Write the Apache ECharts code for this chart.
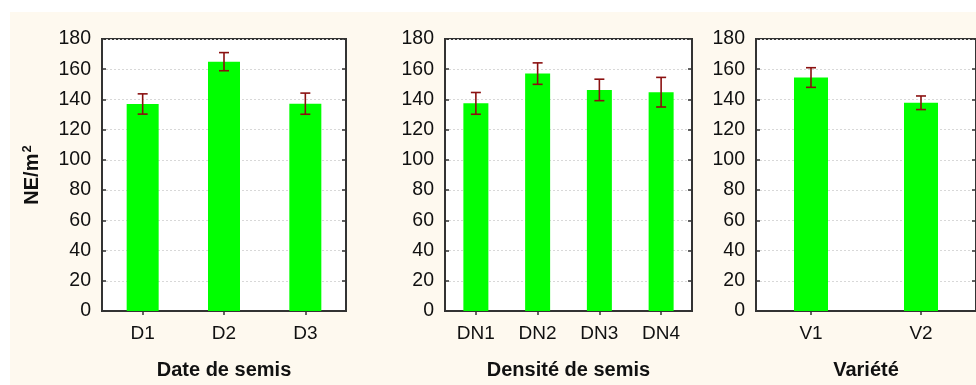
<!DOCTYPE html>
<html>
<head>
<meta charset="utf-8">
<script src="https://cdn.jsdelivr.net/npm/echarts@6/dist/echarts.min.js"></script>
<style>html,body{margin:0;padding:0;background:#fff}#c{width:976px;height:385px}</style>
</head>
<body>
<div id="c"></div>
<script>
// ---- data ----
const dateCats = ['D1', 'D2', 'D3'];
const dateMeans = [137, 165, 137.2];
const dateErr = [6.7, 6.0, 7.0];

const densCats = ['DN1', 'DN2', 'DN3', 'DN4'];
const densMeans = [137.4, 157.1, 146.3, 144.8];
const densErr = [7.2, 7.1, 7.1, 9.8];

const varCats = ['V1', 'V2'];
const varMeans = [154.5, 137.8];
const varErr = [6.5, 4.5];

const xTitles = ['Date de semis', 'Densité de semis', 'Variété'];
const yTitle = 'NE/m';
const yTicks = [0, 20, 40, 60, 80, 100, 120, 140, 160, 180];

// ---- chart ----
const panels = [
  {cats: dateCats, means: dateMeans, err: dateErr, left: 102, width: 244, barW: 32},
  {cats: densCats, means: densMeans, err: densErr, left: 445, width: 247, barW: 25},
  {cats: varCats, means: varMeans, err: varErr, left: 756, width: 225, barW: 34}
];
const FONT = '"Liberation Sans", Arial, sans-serif';
const AX = '#333';
const grids = [], xAxes = [], yAxes = [], series = [];
panels.forEach((p, i) => {
  grids.push({left: p.left, top: 39, width: p.width, height: 277, show: true,
    backgroundColor: '#fff', borderColor: AX, borderWidth: 2, containLabel: false});
  xAxes.push({type: 'category', gridIndex: i, data: p.cats, position: 'bottom',
    axisLine: {show: true, lineStyle: {color: AX, width: 2}},
    axisTick: {show: true, inside: true, alignWithLabel: true, length: 4, lineStyle: {color: AX, width: 1.5}},
    axisLabel: {color: '#111', fontSize: 19, fontFamily: FONT, margin: 13},
    name: xTitles[i], nameLocation: 'middle', nameGap: 49,
    nameTextStyle: {color: '#111', fontSize: 20, fontWeight: 'bold', fontFamily: FONT}});
  xAxes.push({type: 'category', gridIndex: i, data: p.cats, position: 'top',
    axisLine: {show: false},
    axisTick: {show: true, inside: true, alignWithLabel: true, length: 4, lineStyle: {color: AX, width: 1.5}},
    axisLabel: {show: false}});
  const yBase = {type: 'value', gridIndex: i, min: yTicks[0], max: yTicks[yTicks.length - 1], interval: 20};
  yAxes.push(Object.assign({}, yBase, {position: 'left',
    axisLine: {show: true, lineStyle: {color: AX, width: 2}},
    axisTick: {show: true, inside: true, length: 4, lineStyle: {color: AX, width: 1.5}},
    axisLabel: {color: '#111', fontSize: 19.5, fontFamily: FONT, margin: 11},
    splitLine: {show: true, lineStyle: {color: '#d8d8d8', type: [2, 2], width: 1}},
    name: i === 0 ? yTitle + '{sup|2}' : '', nameLocation: 'middle', nameGap: 58, nameRotate: 90,
    nameTextStyle: {color: '#111', fontSize: 20, fontWeight: 'bold', fontFamily: FONT,
      rich: {sup: {fontSize: 13, fontWeight: 'bold', fontFamily: FONT, color: '#111', padding: [0, 0, 10, 1]}}}}));
  yAxes.push(Object.assign({}, yBase, {position: 'right',
    axisLine: {show: false},
    axisTick: {show: true, inside: true, length: 4, lineStyle: {color: AX, width: 1.5}},
    axisLabel: {show: false}, splitLine: {show: false}}));
  series.push({type: 'bar', xAxisIndex: 2 * i, yAxisIndex: 2 * i, data: p.means, barWidth: p.barW,
    itemStyle: {color: '#00ff00'}, silent: true, animation: false, z: 2});
  series.push({type: 'custom', xAxisIndex: 2 * i, yAxisIndex: 2 * i,
    data: p.means.map((m, k) => [k, m - p.err[k], m + p.err[k]]),
    animation: false, silent: true, z: 3,
    renderItem: function (params, api) {
      const lo = api.coord([api.value(0), api.value(1)]);
      const hi = api.coord([api.value(0), api.value(2)]);
      const hw = 5;
      const st = {stroke: '#8b1010', lineWidth: 1.6};
      return {type: 'group', children: [
        {type: 'line', shape: {x1: hi[0], y1: hi[1], x2: lo[0], y2: lo[1]}, style: st},
        {type: 'line', shape: {x1: hi[0] - hw, y1: hi[1], x2: hi[0] + hw, y2: hi[1]}, style: st},
        {type: 'line', shape: {x1: lo[0] - hw, y1: lo[1], x2: lo[0] + hw, y2: lo[1]}, style: st}
      ]};
    }});
});

const chart = echarts.init(document.getElementById('c'), null, {renderer: 'canvas'});
chart.setOption({
  backgroundColor: '#fef9ef',
  animation: false,
  graphic: [
    {type: 'rect', shape: {x: 0, y: 0, width: 976, height: 12}, style: {fill: '#fff'}, silent: true},
    {type: 'rect', shape: {x: 0, y: 0, width: 10, height: 385}, style: {fill: '#fff'}, silent: true}
  ],
  grid: grids, xAxis: xAxes, yAxis: yAxes, series: series
});
</script>
</body>
</html>
